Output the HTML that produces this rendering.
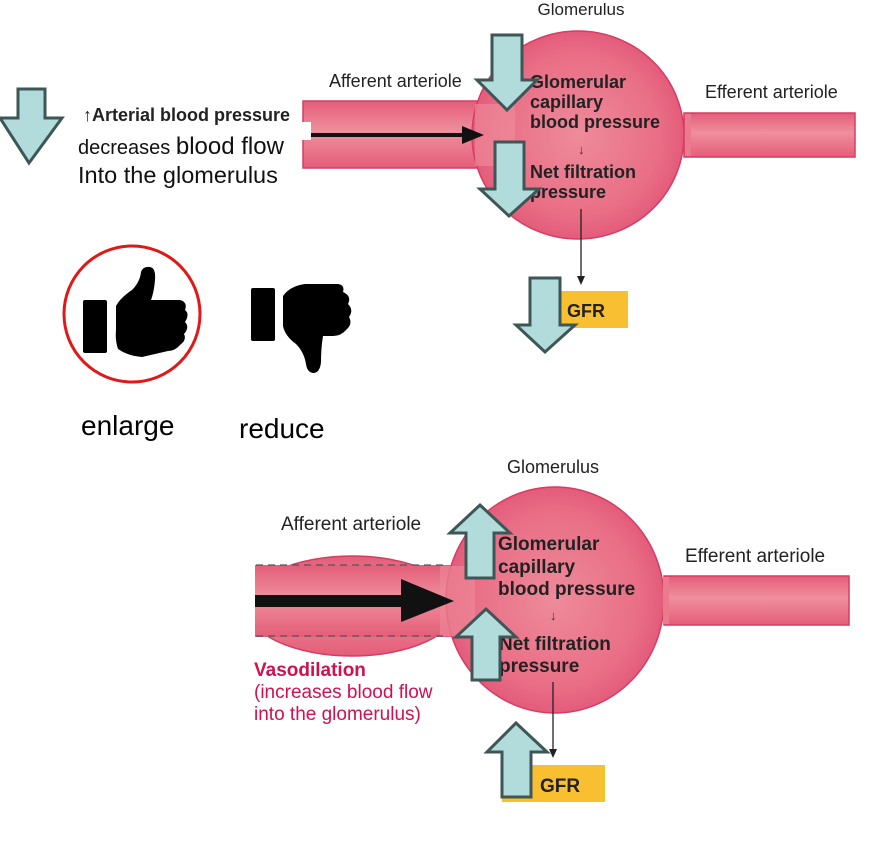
<!DOCTYPE html>
<html><head><meta charset="utf-8"><style>
html,body{margin:0;padding:0;background:#fff;}
svg{display:block;font-family:"Liberation Sans",sans-serif;}
</style></head><body>
<svg width="881" height="843" viewBox="0 0 881 843" xmlns="http://www.w3.org/2000/svg">
<defs>
<linearGradient id="tube" x1="0" y1="0" x2="0" y2="1">
<stop offset="0" stop-color="#e45d79"/><stop offset="0.45" stop-color="#ef8f9e"/><stop offset="1" stop-color="#e45d79"/>
</linearGradient>
<radialGradient id="glom" cx="0.5" cy="0.5" r="0.55">
<stop offset="0" stop-color="#ee8b9b"/><stop offset="0.7" stop-color="#e96e86"/><stop offset="1" stop-color="#e15476"/>
</radialGradient>
</defs>

<!-- ===== TOP DIAGRAM ===== -->
<rect x="303" y="101" width="190" height="67" fill="url(#tube)" stroke="#d63c62" stroke-width="1.5"/>
<rect x="684" y="113" width="171" height="44" fill="url(#tube)" stroke="#d63c62" stroke-width="1.5"/>
<ellipse cx="578" cy="135" rx="106" ry="104" fill="url(#glom)" stroke="#d63c62" stroke-width="1.5"/>
<rect x="475" y="104" width="40" height="62" fill="#ef8d9c" opacity="0.6"/>
<rect x="685" y="114" width="6" height="42" fill="#ea7a8e"/>
<rect x="296" y="122" width="15" height="18" fill="#fff"/>
<line x1="311" y1="135" x2="466" y2="135" stroke="#111" stroke-width="4"/>
<polygon points="462,126 484,135 462,144" fill="#111"/>

<text x="581" y="15" font-size="17" text-anchor="middle" fill="#222">Glomerulus</text>
<text x="329" y="87" font-size="18" fill="#222">Afferent arteriole</text>
<text x="705" y="98" font-size="18" fill="#222">Efferent arteriole</text>
<g font-size="18" font-weight="bold" fill="#222">
<text x="530" y="88">Glomerular</text>
<text x="530" y="108">capillary</text>
<text x="530" y="128">blood pressure</text>
<text x="530" y="178">Net filtration</text>
<text x="530" y="198">pressure</text>
</g>
<text x="578" y="154" font-size="13" fill="#333">↓</text>
<line x1="581" y1="209" x2="581" y2="278" stroke="#222" stroke-width="1.3"/>
<polygon points="577,276 581,285 585,276" fill="#222"/>
<rect x="558" y="291" width="70" height="37" fill="#f8bf30"/>
<text x="567" y="317" font-size="18" font-weight="bold" fill="#222">GFR</text>

<g fill="#b2dcdc" stroke="#3e5656" stroke-width="3" stroke-linejoin="miter">
<polygon points="492,35 522,35 522,80 537,80 507,110 477,80 492,80"/>
<polygon points="495,142 524,142 524,189 539,189 509,216 480,189 495,189"/>
<polygon points="530,278 560,278 560,325 575,325 545,352 516,325 530,325"/>
<polygon points="18,89 45,89 45,118 62,118 29,163 0,118 18,118"/>
</g>

<!-- left text -->
<text x="83" y="121" font-size="18" font-weight="bold" fill="#222"><tspan font-weight="normal">↑</tspan>Arterial blood pressure</text>
<text x="78" y="154" fill="#111"><tspan font-size="20">decreases </tspan><tspan font-size="24">blood flow</tspan></text>
<text x="78" y="183" font-size="23.5" fill="#111">Into the glomerulus</text>

<!-- thumbs -->
<circle cx="132" cy="314" r="68" fill="none" stroke="#e01818" stroke-width="3"/>
<rect x="83" y="300" width="24" height="53" rx="2" fill="#000"/>
<path d="M116,306 Q120,298 132,290 Q140,282 141,272 Q143,266 150,267 Q156,268 155,280 Q154,292 151,300 L180,300 Q188,302 185,310 Q190,314 185,322 Q190,327 184,334 Q187,340 180,345 Q175,351 168,351 L142,357 Q128,356 118,349 Q115,340 116,330 Z" fill="#000"/>
<rect x="251" y="288" width="24" height="53" rx="2" fill="#000"/>
<path d="M283,296 Q290,286 305,284 L338,284 Q345,285 343,292 Q352,296 348,304 Q354,310 349,317 Q353,324 346,330 Q341,336 333,336 L323,336 Q321,348 321,362 Q320,373 313,373 Q307,372 306,364 Q304,352 296,344 Q285,336 283,326 Z" fill="#000"/>
<text x="81" y="435" font-size="28" fill="#000">enlarge</text>
<text x="239" y="438" font-size="28" fill="#000">reduce</text>

<!-- ===== BOTTOM DIAGRAM ===== -->
<clipPath id="bulge"><rect x="255" y="500" width="200" height="200"/></clipPath>
<ellipse cx="352" cy="606" rx="106" ry="50" fill="url(#tube)" stroke="#d63c62" stroke-width="1.5" clip-path="url(#bulge)"/>
<rect x="255" y="565" width="200" height="72" fill="url(#tube)"/>
<rect x="664" y="576" width="185" height="49" fill="url(#tube)" stroke="#d63c62" stroke-width="1.5"/>
<ellipse cx="555" cy="600" rx="109" ry="113" fill="url(#glom)" stroke="#d63c62" stroke-width="1.5"/>
<rect x="440" y="566" width="35" height="70" fill="#ed8696" opacity="0.7"/>
<rect x="663" y="577" width="6" height="47" fill="#ea7a8e"/>
<line x1="256" y1="565" x2="445" y2="565" stroke="#555" stroke-width="1.3" stroke-dasharray="7,5"/>
<line x1="256" y1="636" x2="445" y2="636" stroke="#555" stroke-width="1.3" stroke-dasharray="7,5"/>
<polygon points="255,595 401,595 401,579 454,601 401,622 401,607 255,607" fill="#111"/>

<text x="553" y="473" font-size="18" text-anchor="middle" fill="#222">Glomerulus</text>
<text x="281" y="530" font-size="19" fill="#222">Afferent arteriole</text>
<text x="685" y="562" font-size="19" fill="#222">Efferent arteriole</text>
<g font-size="19" font-weight="bold" fill="#222">
<text x="498" y="550">Glomerular</text>
<text x="498" y="573">capillary</text>
<text x="498" y="595">blood pressure</text>
<text x="499" y="650">Net filtration</text>
<text x="499" y="672">pressure</text>
</g>
<text x="550" y="620" font-size="13" fill="#333">↓</text>
<line x1="553" y1="682" x2="553" y2="751" stroke="#222" stroke-width="1.3"/>
<polygon points="549,749 553,758 557,749" fill="#222"/>
<rect x="502" y="765" width="103" height="37" fill="#f8bf30"/>
<text x="540" y="792" font-size="19" font-weight="bold" fill="#222">GFR</text>

<g fill="#b2dcdc" stroke="#3e5656" stroke-width="3">
<polygon points="480,505 510,533 494,533 494,578 466,578 466,533 450,533"/>
<polygon points="486,609 516,637 500,637 500,680 472,680 472,637 456,637"/>
<polygon points="516,723 547,752 531,752 531,797 502,797 502,752 487,752"/>
</g>

<text x="254" y="676" font-size="19" font-weight="bold" fill="#d0104f">Vasodilation</text>
<text x="254" y="698" font-size="19" fill="#d0104f">(increases blood flow</text>
<text x="254" y="720" font-size="19" fill="#d0104f">into the glomerulus)</text>
</svg>
</body></html>
